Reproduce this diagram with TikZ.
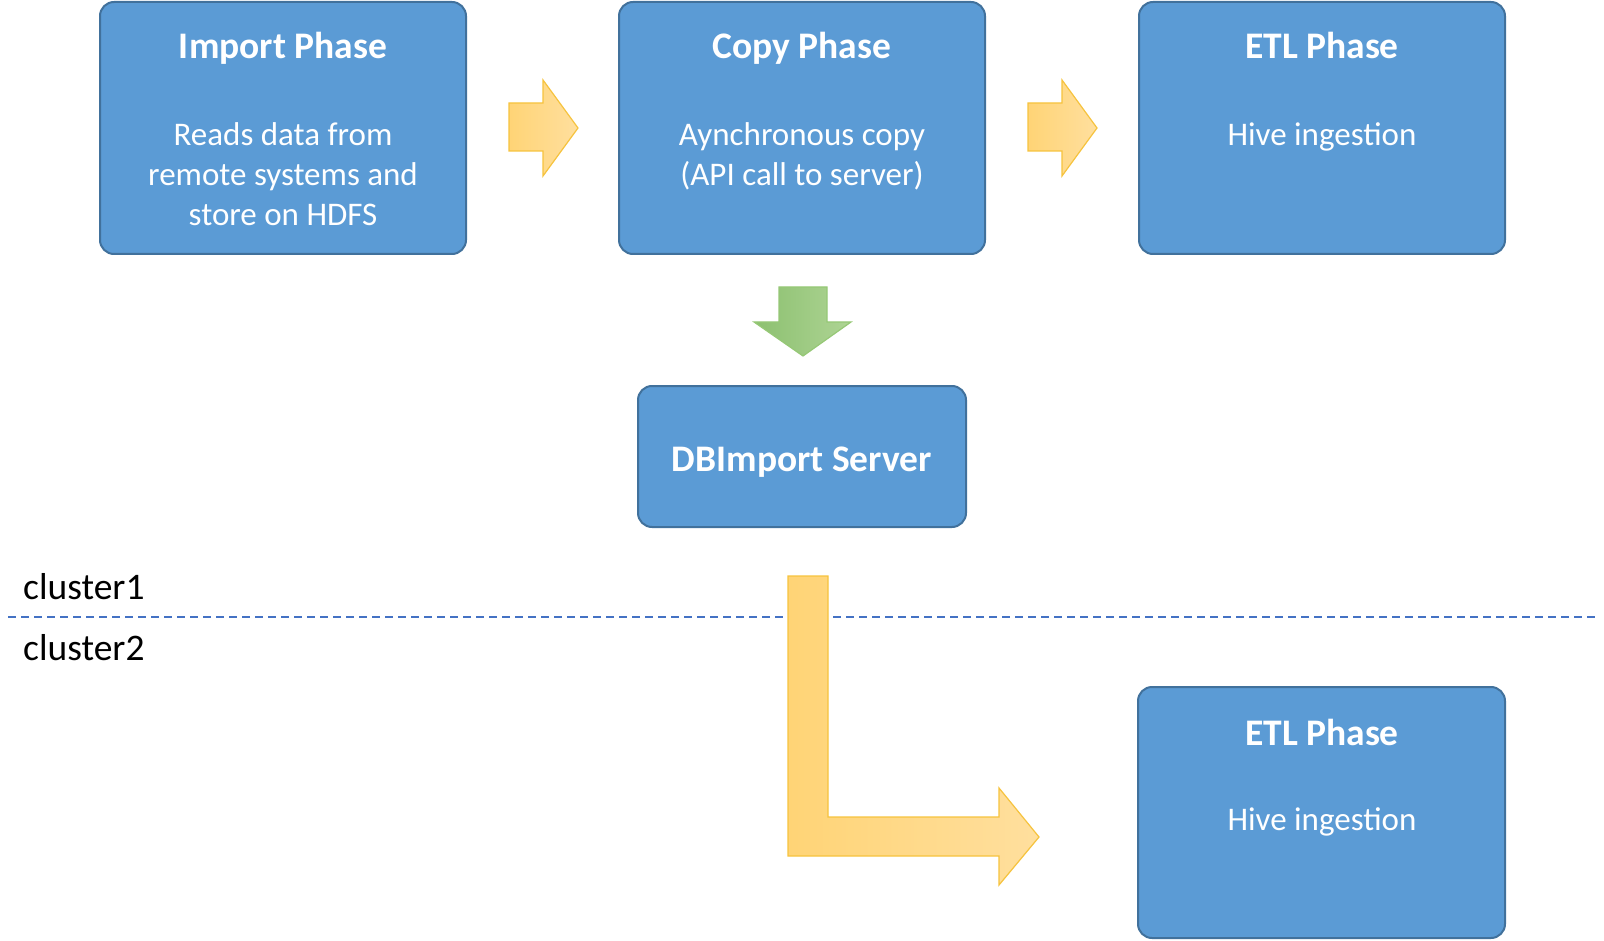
\documentclass[tikz,border=0pt]{standalone}
\usepackage{fontspec}
\setmainfont{Carlito}
\definecolor{boxfill}{HTML}{5B9BD5}
\definecolor{boxline}{HTML}{41719C}
\definecolor{yelA}{RGB}{255,212,118}
\definecolor{yelB}{RGB}{255,223,158}
\definecolor{yelLine}{RGB}{246,195,62}
\definecolor{grnA}{RGB}{140,192,112}
\definecolor{grnB}{RGB}{174,212,148}
\definecolor{grnLine}{RGB}{150,200,118}
\definecolor{sepLine}{HTML}{4472C4}
\tikzset{
  phasebox/.style={draw=boxline, fill=boxfill, line width=2pt, rounded corners=14pt, inner sep=0pt},
  ttl/.style={text=white, font=\fontsize{37.5}{44}\selectfont\bfseries, anchor=base, inner sep=0pt},
  bod/.style={text=white, font=\fontsize{33}{39}\selectfont, anchor=base, inner sep=0pt},
  clabel/.style={text=black, font=\fontsize{37.5}{44}\selectfont, anchor=base west, inner sep=0pt},
  yarrow/.style={draw=yelLine, line width=1.2pt, left color=yelA, right color=yelB, line join=miter},
  garrow/.style={draw=grnLine, line width=1.2pt, left color=grnA, right color=grnB, line join=miter},
  sepline/.style={draw=sepLine, line width=2pt, dash pattern=on 8pt off 5pt}
}
\begin{document}
\begin{tikzpicture}[x=1pt,y=-1pt]
\useasboundingbox (0,0) rectangle (1604,941);
% boxes
\node[phasebox, minimum width=366pt, minimum height=252pt] (imp) at (283,128) {};
\node[phasebox, minimum width=366pt, minimum height=252pt] (cpy) at (802,128) {};
\node[phasebox, minimum width=366pt, minimum height=252pt] (etl1) at (1322,128) {};
\node[phasebox, minimum width=328pt, minimum height=141pt] (srv) at (802,456.5) {};
\node[phasebox, minimum width=367pt, minimum height=251pt] (etl2) at (1321.5,812.5) {};
% texts
\node[ttl] (impT) at (283,59) {Import Phase};
\node[bod] (impB1) at (283,146) {Reads data from};
\node[bod] (impB2) at (283,186) {remote systems and};
\node[bod] (impB3) at (283,226) {store on HDFS};
\node[ttl] (cpyT) at (802,59) {Copy Phase};
\node[bod] (cpyB1) at (802,146) {Aynchronous copy};
\node[bod] (cpyB2) at (802,186) {(API call to server)};
\node[ttl] (etl1T) at (1322,59) {ETL Phase};
\node[bod] (etl1B) at (1322,146) {Hive ingestion};
\node[ttl] (srvT) at (802,471) {DBImport Server};
\node[ttl] (etl2T) at (1322,745) {ETL Phase};
\node[bod] (etl2B) at (1322,830) {Hive ingestion};
% cluster labels
\node[clabel] (c1) at (23,599) {cluster1};
\node[clabel] (c2) at (23,660) {cluster2};
% separator
\coordinate (sepL) at (8,617);
\coordinate (sepM1) at (787,617);
\coordinate (sepM2) at (833,617);
\coordinate (sepR) at (1598,617);
\draw[sepline] (sepL) -- (sepM1);
\draw[sepline] (sepM2) -- (sepR);
% block arrows
\draw[yarrow] (509,103) -- (543,103) -- (543,80) -- (578,128) -- (543,176) -- (543,151) -- (509,151) -- cycle;
\draw[yarrow] (1028,103) -- (1062,103) -- (1062,80) -- (1097,128) -- (1062,176) -- (1062,151) -- (1028,151) -- cycle;
\draw[garrow] (779,287) -- (827,287) -- (827,322) -- (851,322) -- (803,356) -- (754,322) -- (779,322) -- cycle;
\draw[yarrow] (788,576) -- (828,576) -- (828,817) -- (999,817) -- (999,788) -- (1039,837) -- (999,885) -- (999,856) -- (788,856) -- cycle;
\end{tikzpicture}
\end{document}
